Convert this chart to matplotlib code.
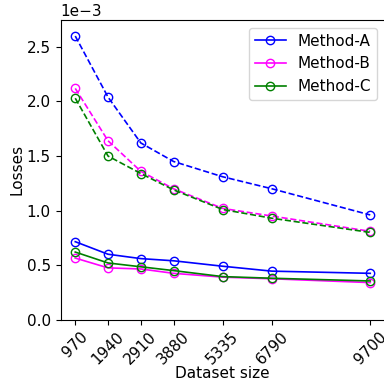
import numpy as np
import matplotlib.pyplot as plt

# Tamaños del conjunto de datos
sizes = [970, 1940, 2910, 3880, 5335, 6790, 9700]

# Pérdidas (x1e-3): línea continua y discontinua por método
a_solid = [0.715, 0.60, 0.56, 0.54, 0.49, 0.445, 0.425]
b_solid = [0.565, 0.475, 0.465, 0.425, 0.39, 0.375, 0.34]
c_solid = [0.62, 0.52, 0.485, 0.45, 0.395, 0.38, 0.355]
a_dash = [2.60, 2.04, 1.62, 1.45, 1.31, 1.20, 0.96]
b_dash = [2.12, 1.64, 1.36, 1.20, 1.02, 0.95, 0.81]
c_dash = [2.03, 1.50, 1.34, 1.19, 1.01, 0.93, 0.80]

names = ['Method-A', 'Method-B', 'Method-C']
colors = ['blue', 'magenta', 'green']

plt.rcParams['font.size'] = 11

fig = plt.figure(figsize=(3.84, 3.89), dpi=100)
ax = fig.add_axes([60.5 / 384, (389 - 319.7) / 389, (385 - 60.5) / 384, (319.7 - 20) / 389])

x = np.array(sizes)
for name, col, sol, das in zip(names, colors, [a_solid, b_solid, c_solid], [a_dash, b_dash, c_dash]):
    ax.plot(x, np.array(sol) * 1e-3, '-', color=col, marker='o', mfc='none', ms=6, lw=1.2, label=name)
    ax.plot(x, np.array(das) * 1e-3, '--', color=col, marker='o', mfc='none', ms=6, lw=1.2)

ax.set_ylim(0, 2.747e-3)
ax.set_xticks(sizes)
ax.set_xticklabels([str(s) for s in sizes], rotation=45)
ax.ticklabel_format(axis='y', style='sci', scilimits=(0, 0))
ax.set_xlabel('Dataset size', labelpad=-1)
ax.set_ylabel('Losses', labelpad=1.5)
ax.legend(loc='upper right')

fig.savefig('out.png', dpi=100)
